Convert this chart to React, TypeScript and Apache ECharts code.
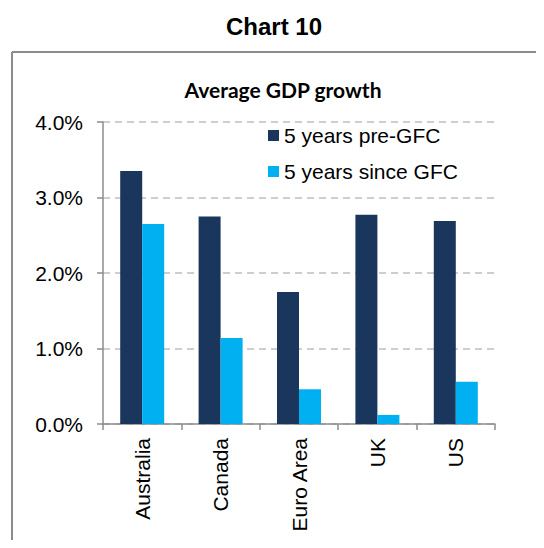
import React, { useEffect, useRef } from "react";
import * as echarts from "echarts";

const categories = ["Australia", "Canada", "Euro Area", "UK", "US"];
const preGFC = [3.35, 2.75, 1.75, 2.77, 2.69];
const sinceGFC = [2.65, 1.14, 0.46, 0.12, 0.56];
const seriesNames = ["5 years pre-GFC", "5 years since GFC"];
const yTicks = { min: 0, max: 4, interval: 1 };

const FONT = "'Liberation Sans', Arial, sans-serif";

export default function App() {
  const ref = useRef<HTMLDivElement>(null);
  useEffect(() => {
    if (!ref.current) return;
    const chart = echarts.init(ref.current, undefined, { renderer: "svg" });
    chart.setOption({
      animation: false,
      backgroundColor: "#ffffff",
      title: [
        {
          text: "Chart 10",
          left: 269,
          textAlign: "center",
          top: 9,
          textStyle: { fontFamily: FONT, fontSize: 24, fontWeight: "bold", color: "#000" },
        },
        {
          text: "Average GDP growth",
          left: 278,
          textAlign: "center",
          top: 74,
          textStyle: { fontFamily: "Lato, 'Open Sans', sans-serif", fontSize: 21, fontWeight: "bold", color: "#000" },
        },
      ],
      graphic: [
        { type: "line", shape: { x1: 12, y1: 52, x2: 542, y2: 52 }, style: { stroke: "#8c8c8c", lineWidth: 2 } },
        { type: "line", shape: { x1: 12, y1: 52, x2: 12, y2: 548 }, style: { stroke: "#8c8c8c", lineWidth: 2 } },
      ],
      legend: {
        orient: "vertical",
        left: 263,
        top: 120,
        itemWidth: 11,
        itemHeight: 11,
        itemGap: 15,
        icon: "rect",
        data: seriesNames,
        textStyle: { fontFamily: FONT, fontSize: 21, lineHeight: 21, color: "#000" },
      },
      grid: { left: 103, right: 49, top: 122, bottom: 124, containLabel: false },
      xAxis: {
        type: "category",
        data: categories,
        axisLine: { lineStyle: { color: "#8c8c8c", width: 1.5 } },
        axisTick: { show: true, length: 6, lineStyle: { color: "#8c8c8c", width: 1.5 } },
        axisLabel: { rotate: 90, margin: 14, fontFamily: FONT, fontSize: 21, color: "#000" },
      },
      yAxis: {
        type: "value",
        min: yTicks.min,
        max: yTicks.max,
        interval: yTicks.interval,
        axisLine: { show: true, lineStyle: { color: "#8c8c8c", width: 1.5 } },
        axisTick: { show: true, inside: false, length: 6, lineStyle: { color: "#8c8c8c", width: 1.5 } },
        axisLabel: {
          margin: 20,
          fontFamily: FONT,
          fontSize: 21,
          color: "#000",
          formatter: (v: number) => v.toFixed(1) + "%",
        },
        splitLine: { show: true, lineStyle: { color: "#bfbfbf", type: [7, 5], width: 1.5 } },
      },
      series: [
        {
          name: seriesNames[0],
          type: "bar",
          data: preGFC,
          barWidth: 22,
          barGap: "0%",
          itemStyle: { color: "#1b365d" },
        },
        {
          name: seriesNames[1],
          type: "bar",
          data: sinceGFC,
          barWidth: 22,
          barGap: "0%",
          itemStyle: { color: "#00b0f0" },
        },
      ],
    });
    return () => chart.dispose();
  }, []);
  return <div ref={ref} style={{ width: 544, height: 548, margin: -8 }} />;
}
